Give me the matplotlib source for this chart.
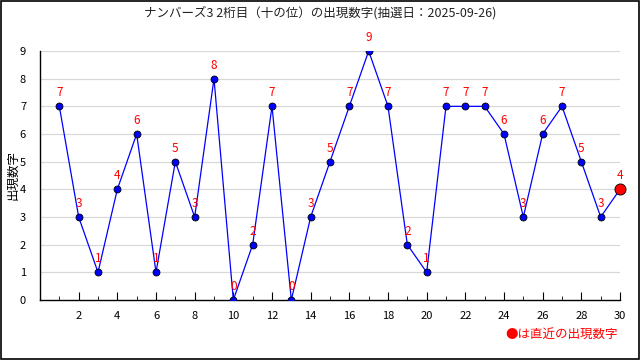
import numpy as np
import matplotlib
matplotlib.use('Agg')
import matplotlib.pyplot as plt
from matplotlib.patches import Rectangle
from matplotlib.ticker import MultipleLocator

plt.rcParams['font.family'] = ['Noto Sans CJK JP', 'DejaVu Sans']

draws = list(range(1, 31))
digits = [7, 3, 1, 4, 6, 1, 5, 3, 8, 0, 2, 7, 0, 3, 5, 7, 9, 7, 2, 1,
          7, 7, 7, 6, 3, 6, 7, 5, 3, 4]
title = 'ナンバーズ3 2桁目（十の位）の出現数字(抽選日：2025-09-26)'

fig = plt.figure(figsize=(6.4, 3.6), dpi=100)
fig.patches.append(Rectangle((0.001, 0.002), 0.997, 0.995, transform=fig.transFigure,
                             fill=False, edgecolor='black', linewidth=1.2))
ax = fig.add_axes([0.0625, 0.1667, 0.90625, 0.6916])

ax.set_xlim(0, 30)
ax.set_ylim(0, 9)
for y in range(1, 10):
    ax.axhline(y, color='#d8d8d8', linewidth=0.9, zorder=0)

ax.plot(draws[:-1], digits[:-1], color='blue', linewidth=0.9, marker='o',
        markersize=5, markerfacecolor='blue', markeredgecolor='black',
        markeredgewidth=0.6, zorder=3)
ax.plot(draws[-2:], digits[-2:], color='blue', linewidth=0.9, zorder=2)
ax.plot(draws[-1], digits[-1], marker='o', markersize=8, color='red',
        markeredgecolor='black', markeredgewidth=0.6, zorder=4, clip_on=False)

for x, y in zip(draws, digits):
    ax.annotate(str(y), (x, y), xytext=(0, 5), textcoords='offset points',
                ha='center', va='bottom', color='red', fontsize=8.5, zorder=5)

ax.xaxis.set_minor_locator(MultipleLocator(1))
ax.set_xticks(range(2, 31, 2))
ax.set_yticks(range(0, 10))
ax.tick_params(axis='x', which='major', length=6, direction='in', labelsize=8, pad=8)
ax.tick_params(axis='x', which='minor', length=3, direction='in')
ax.tick_params(axis='y', length=0, labelsize=8, pad=10)
for s in ['top', 'right']:
    ax.spines[s].set_visible(False)
ax.spines['left'].set_linewidth(1.0)
ax.spines['bottom'].set_linewidth(1.0)

ax.set_ylabel('出現数字', fontsize=9)
ax.yaxis.set_label_coords(-0.035, 0.5)
fig.text(0.5, 0.965, title, ha='center', va='center', fontsize=9, color='#222222')
fig.text(0.965, 0.07, '●は直近の出現数字', ha='right', va='center', color='red', fontsize=9)

fig.savefig('out.png', dpi=100)
